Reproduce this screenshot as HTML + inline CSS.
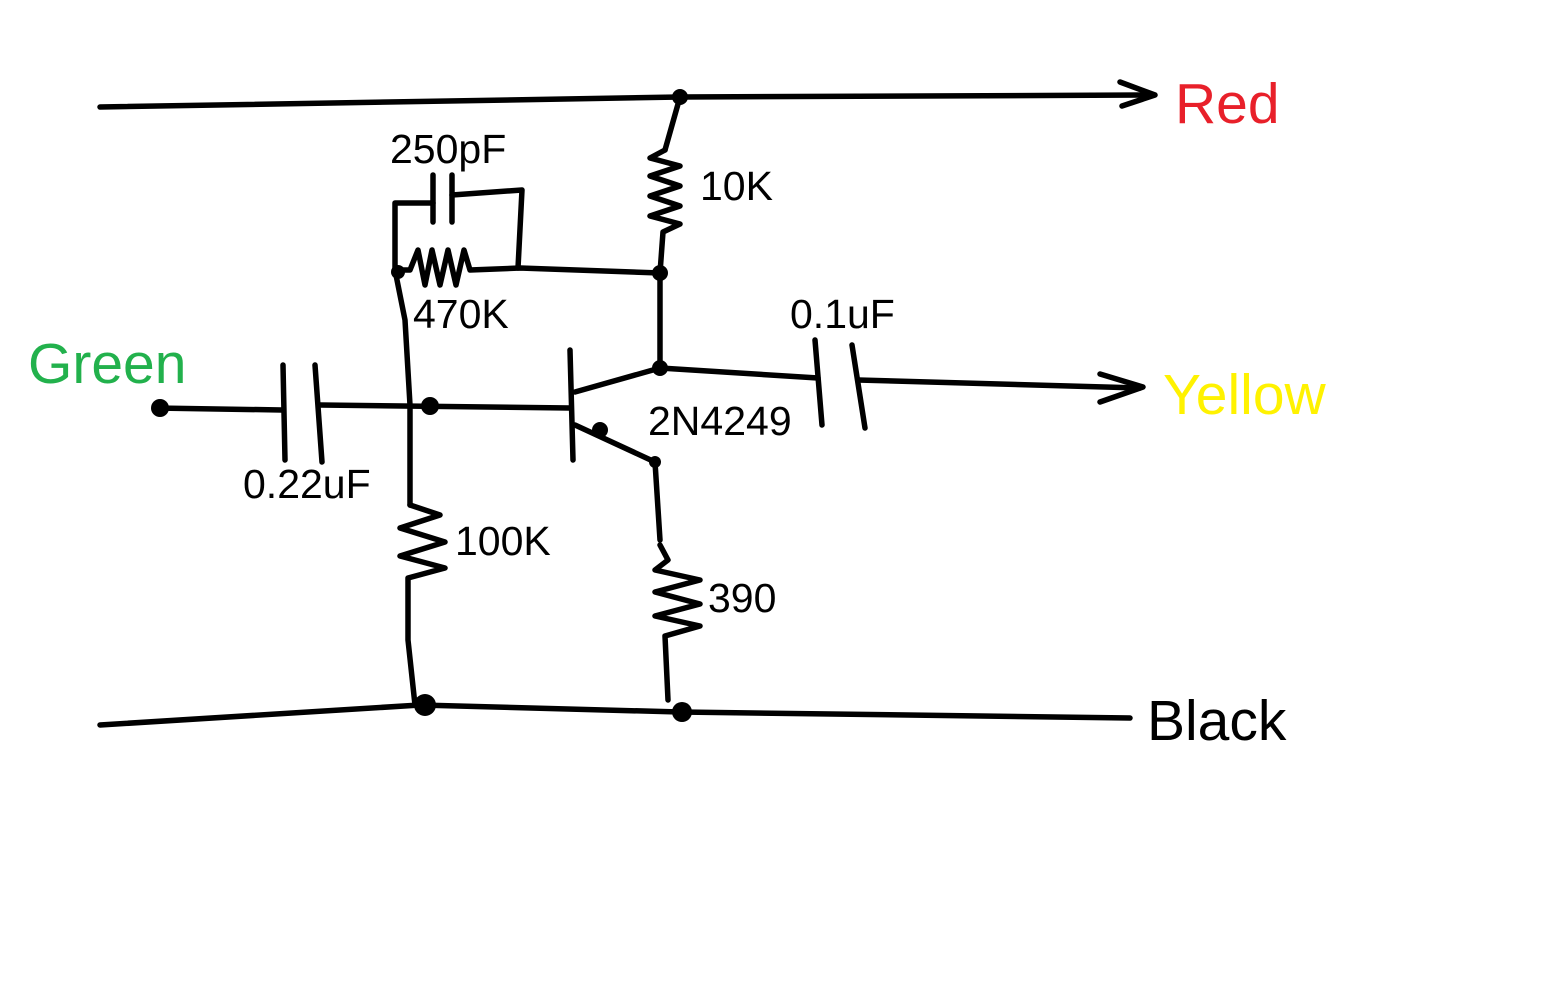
<!DOCTYPE html>
<html><head><meta charset="utf-8"><style>
html,body{margin:0;padding:0;background:#fff;}
svg{display:block;}
text{font-family:"Liberation Sans",sans-serif;}
</style></head><body>
<svg width="1566" height="998" viewBox="0 0 1566 998" xmlns="http://www.w3.org/2000/svg">
<g fill="none" stroke="#000" stroke-width="5.5" stroke-linecap="round" stroke-linejoin="round">
<path d="M100 107 L680 97 L1150 95"/>
<path d="M1120 82 L1155 95 L1122 106"/>
<path d="M680 97 L665 150"/>
<path d="M665 150 L650 158 L680 166 L650 176 L680 186 L650 196 L680 206 L650 216 L680 224 L663 232 L660 273"/>
<path d="M395 270 L395 203 L433 203"/>
<path d="M433 175 L433 222 M452 175 L452 222"/>
<path d="M452 195 L522 190 L518 268"/>
<path d="M395 270 L410 270 L418 250 L425 285 L432 250 L440 285 L448 250 L456 285 L464 250 L470 270 L520 268 L660 273"/>
<path d="M395 270 L405 320 L410 405 L410 505"/>
<path d="M410 505 L440 515 L400 528 L445 542 L400 556 L445 568 L408 578 L408 640 L415 705"/>
<path d="M660 273 L660 365"/>
<path d="M575 392 L660 368"/>
<path d="M660 368 L818 378"/>
<path d="M815 340 L822 425 M852 345 L865 428"/>
<path d="M858 380 L1140 388"/>
<path d="M1100 374 L1143 387 L1100 402"/>
<path d="M570 350 L573 460"/>
<path d="M155 408 L282 410"/>
<path d="M283 365 L285 460 M315 365 L322 462"/>
<path d="M320 405 L570 408"/>
<path d="M575 425 L655 462 L660 540"/>
<path d="M660 545 L668 560 L655 570 L700 580 L655 592 L700 604 L655 616 L700 626 L665 636 L668 700"/>
<path d="M100 725 L420 705 L680 712 L1130 718"/>
</g>
<g fill="#000">
<circle cx="680" cy="97" r="8"/>
<circle cx="660" cy="273" r="8"/>
<circle cx="398" cy="272" r="7"/>
<circle cx="660" cy="368" r="8"/>
<circle cx="430" cy="406" r="9"/>
<circle cx="160" cy="408" r="9"/>
<circle cx="600" cy="430" r="8"/>
<circle cx="655" cy="462" r="6"/>
<circle cx="425" cy="705" r="11"/>
<circle cx="682" cy="712" r="10"/>
</g>
<g font-size="41" fill="#000">
<text x="390" y="163">250pF</text>
<text x="700" y="200">10K</text>
<text x="413" y="328">470K</text>
<text x="790" y="328">0.1uF</text>
<text x="648" y="435">2N4249</text>
<text x="243" y="498">0.22uF</text>
<text x="455" y="555">100K</text>
<text x="708" y="612">390</text>
</g>
<g font-size="57">
<text x="1175" y="123" fill="#e8202a">Red</text>
<text x="28" y="383" fill="#22b14c">Green</text>
<text x="1163" y="414" fill="#fff200">Yellow</text>
<text x="1147" y="740" fill="#000">Black</text>
</g>
</svg>
</body></html>
